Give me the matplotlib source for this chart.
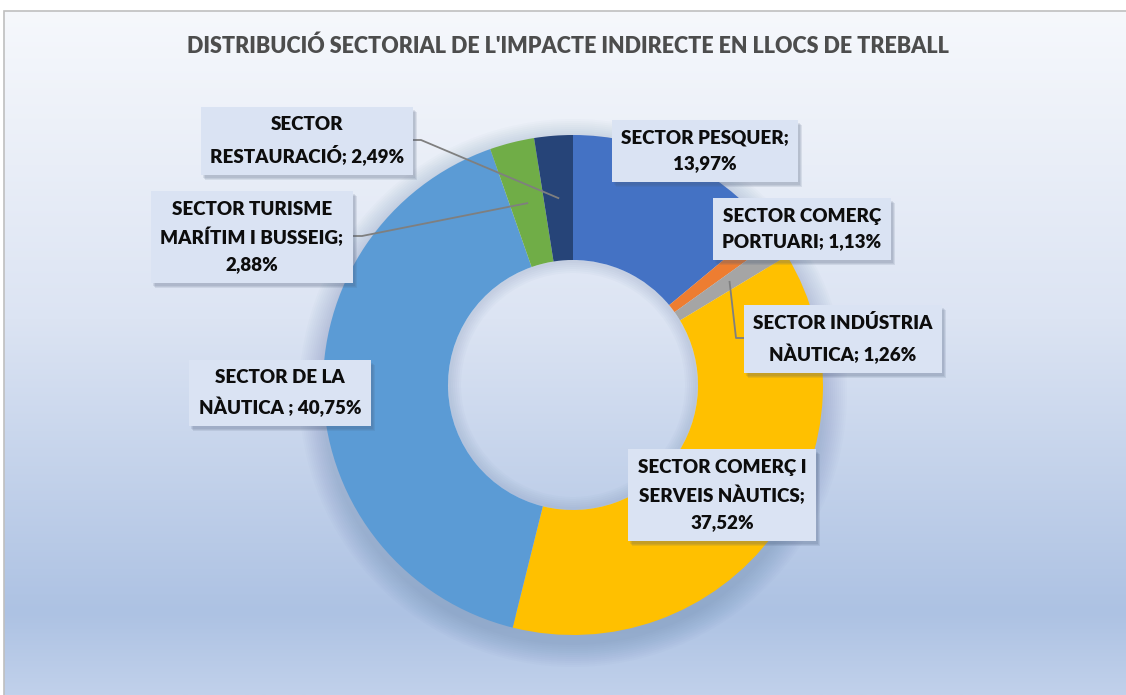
import numpy as np
import matplotlib
matplotlib.use('Agg')
import matplotlib.pyplot as plt
from matplotlib.patches import Rectangle, Wedge

# data
sectors = ["SECTOR PESQUER", "SECTOR COMERÇ PORTUARI", "SECTOR INDÚSTRIA NÀUTICA",
           "SECTOR COMERÇ I SERVEIS NÀUTICS", "SECTOR DE LA NÀUTICA",
           "SECTOR TURISME MARÍTIM I BUSSEIG", "SECTOR RESTAURACIÓ"]
values = [13.97, 1.13, 1.26, 37.52, 40.75, 2.88, 2.49]
colors = ["#4472C4", "#ED7D31", "#A5A5A5", "#FFC000", "#5B9BD5", "#70AD47", "#264478"]
label_fmt = ["SECTOR PESQUER;\n{}", "SECTOR COMERÇ\nPORTUARI; {}", "SECTOR INDÚSTRIA\nNÀUTICA; {}",
             "SECTOR COMERÇ I\nSERVEIS NÀUTICS;\n{}", "SECTOR DE LA\nNÀUTICA ; {}",
             "SECTOR TURISME\nMARÍTIM I BUSSEIG;\n{}", "SECTOR\nRESTAURACIÓ; {}"]
title = "DISTRIBUCIÓ SECTORIAL DE L'IMPACTE INDIRECTE EN LLOCS DE TREBALL"

# layout (pixel coords, y from top)
W, H = 1126, 695
cx, cy = 573, 385
R, ring = 250, 125
label_pos = [(705, 151), (802, 229), (843, 339), (722, 495), (280, 393), (252, 237), (307, 141)]
# leader: (box edge x, y, elbow x)
leaders = {2: (748, 338, 736), 5: (351, 236, 362), 6: (410, 140, 421)}

plt.rcParams['font.family'] = ['Lato', 'DejaVu Sans']

fig = plt.figure(figsize=(W / 100, H / 100), dpi=100)
ax = fig.add_axes([0, 0, 1, 1])

def Y(y):
    return H - y

# background gradient
top = np.array([0xF6, 0xF8, 0xFC]) / 255
mid = np.array([0xDC, 0xE4, 0xF3]) / 255
low = np.array([0xAD, 0xC2, 0xE3]) / 255
bot = np.array([0xC1, 0xD1, 0xEB]) / 255
t = np.linspace(0, 1, 400)[:, None]
grad = np.where(t < 0.45, top + (mid - top) * (t / 0.45),
                np.where(t < 0.88, mid + (low - mid) * ((t - 0.45) / 0.43),
                         low + (bot - low) * ((t - 0.88) / 0.12)))
ax.imshow(grad[:, None, :], extent=(4, W, 0, Y(11)), aspect='auto', zorder=0)
ax.add_patch(Rectangle((4, -2), W, Y(11) + 2, fill=False, ec='#BFBFBF', lw=1.2, zorder=1))

# soft shadow under donut (ring only, hole stays clear)
for k in range(12):
    r = R + 2 + k * 2
    ax.add_patch(Wedge((cx, Y(cy) - 8), r, 0, 360, width=r - R + 20,
                       color='#3A5A8A', alpha=0.02, lw=0, zorder=1))
# slight inner shadow in the hole
for k in range(6):
    r = R - ring
    ax.add_patch(Wedge((cx, Y(cy)), r, 0, 360, width=3 + k * 2,
                       color='#6F86AE', alpha=0.04, lw=0, zorder=1))

ax.pie(values, colors=colors, startangle=90, counterclock=False, center=(cx, Y(cy)), radius=R,
       wedgeprops=dict(width=ring, linewidth=0), frame=True)
ax.set_xlim(0, W)
ax.set_ylim(0, H)
ax.set_aspect('equal')
ax.axis('off')

# leader lines
cum = np.cumsum([0] + values[:-1])
for i, (bx, by, ex) in leaders.items():
    ang = np.deg2rad(90 - (cum[i] + values[i] / 2) * 3.6)
    px, py = cx + (R - ring / 2) * np.cos(ang), cy - (R - ring / 2) * np.sin(ang)
    if i == 2:
        xs, ys = [px, ex, bx], [py, by, by]
    else:
        xs, ys = [bx, ex, px], [by, by, py]
    ax.plot(xs, [Y(v) for v in ys], color='#7F7F7F', lw=1.3, zorder=3)

# labels
texts = []
for i, (fmt, v) in enumerate(zip(label_fmt, values)):
    txt = fmt.format(f"{v:.2f}%".replace('.', ','))
    x, y = label_pos[i]
    tt = ax.text(x, Y(y), txt, ha='center', va='center', fontsize=13.5, fontweight='heavy',
                 color='#0D0D0D', linespacing=1.62, zorder=5,
                 bbox=dict(boxstyle='square,pad=0.5', fc='#DAE3F3', ec='none'))
    texts.append(tt)

ax.text(568, Y(46), title, ha='center', va='center', fontsize=15.5, fontweight='heavy',
        color='#4D4D4D', zorder=5)

# box shadows
fig.canvas.draw()
inv = ax.transData.inverted()
for tt in texts:
    bb = tt.get_bbox_patch().get_window_extent()
    (x0, y0), (x1, y1) = inv.transform([[bb.x0, bb.y0], [bb.x1, bb.y1]])
    for k in range(3):
        ax.add_patch(Rectangle((x0 + 2 + k, y0 - 3 - k), x1 - x0, y1 - y0,
                               fc='#4A5A78', ec='none', alpha=0.12, zorder=4))

fig.savefig('out.png', dpi=100, facecolor='white')
